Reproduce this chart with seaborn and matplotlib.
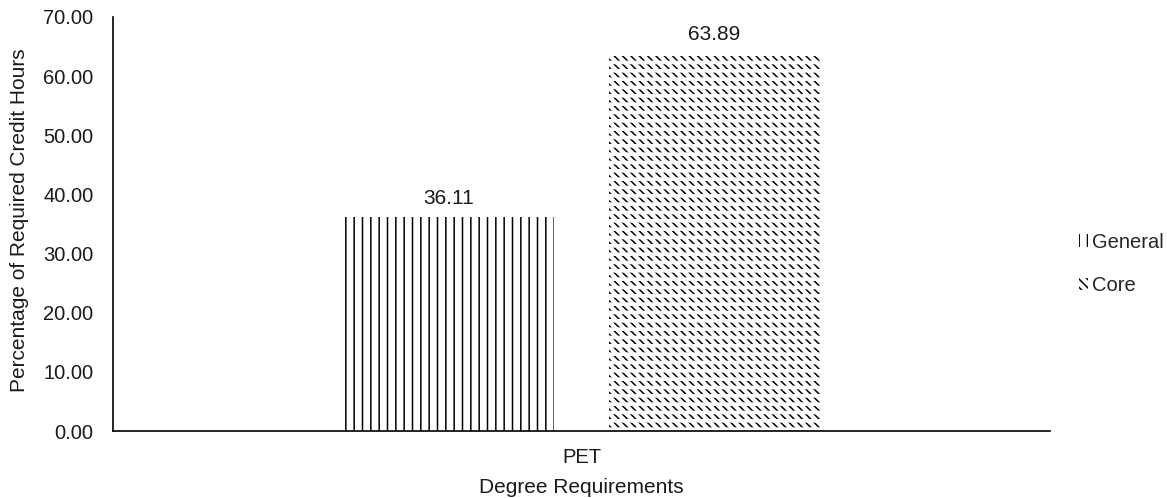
import matplotlib
matplotlib.use("Agg")
import matplotlib.pyplot as plt
from matplotlib.patches import Rectangle
import seaborn as sns
import pandas as pd

# Share of required credit hours by requirement type
programs = ["PET", "PET"]
req_types = ["General", "Core"]
percentages = [36.11, 63.89]
y_ticks = [0, 10, 20, 30, 40, 50, 60, 70]

df = pd.DataFrame({"Program": programs, "Type": req_types, "Pct": percentages})

sns.set_style("white")
plt.rcParams["font.family"] = ["Liberation Sans", "DejaVu Sans"]
plt.rcParams["hatch.linewidth"] = 1.1

FS = 15
TXT = "#1a1a1a"

fig = plt.figure(figsize=(11.67, 4.98), dpi=100)
ax = fig.add_axes([0.0968, 0.1345, 0.8029, 0.8314])

sns.barplot(data=df, x="Program", y="Pct", hue="Type", hue_order=req_types,
            palette=["white", "white"], edgecolor="black", linewidth=0,
            width=0.8, gap=0.205, ax=ax, legend=False)

hatches = ["||", "\\\\\\\\"]
handles = []
for cont, hatch, label in zip(ax.containers, hatches, req_types):
    for bar in cont:
        bar.set_hatch(hatch)
        bar.set_edgecolor("black")
        bar.set_linewidth(0)
    handles.append(Rectangle((0, 0), 1, 1, facecolor="white", edgecolor="black",
                             hatch=hatch, linewidth=0, label=label))

# Break the diagonal hatch of the core bar into rows of short dashes
for bar in ax.containers[1]:
    cover = Rectangle((bar.get_x(), bar.get_y()), bar.get_width(), bar.get_height(),
                      facecolor="none", edgecolor="white", hatch="--", linewidth=0,
                      zorder=bar.get_zorder() + 0.1)
    if hasattr(cover, "set_hatch_linewidth"):
        cover.set_hatch_linewidth(2.6)
    ax.add_patch(cover)

for cont in ax.containers:
    ax.bar_label(cont, fmt="%.2f", padding=6.5, fontsize=FS, color=TXT)

ax.set_ylim(0, 70)
ax.set_yticks(y_ticks)
ax.set_yticklabels([f"{v:.2f}" for v in y_ticks])
ax.set_xlim(-0.706, 0.706)
ax.tick_params(axis="y", length=0, labelsize=FS - 0.5, colors=TXT, pad=14)
ax.tick_params(axis="x", length=0, labelsize=FS - 0.5, colors=TXT, pad=12)
ax.set_ylabel("Percentage of Required Credit Hours", fontsize=FS, color=TXT)
ax.yaxis.set_label_coords(-0.090, 0.51)
ax.set_xlabel("Degree Requirements", fontsize=FS, color=TXT, labelpad=8)

for side in ["top", "right"]:
    ax.spines[side].set_visible(False)
for side in ["left", "bottom"]:
    ax.spines[side].set_color("black")
    ax.spines[side].set_linewidth(1.2)

fig.legend(handles=handles, loc="center left", bbox_to_anchor=(0.918, 0.470),
           frameon=False, fontsize=FS - 0.5, handlelength=0.45, handleheight=0.6,
           handletextpad=0.2, labelspacing=1.2, borderaxespad=0)

fig.savefig("out.png", dpi=100)
